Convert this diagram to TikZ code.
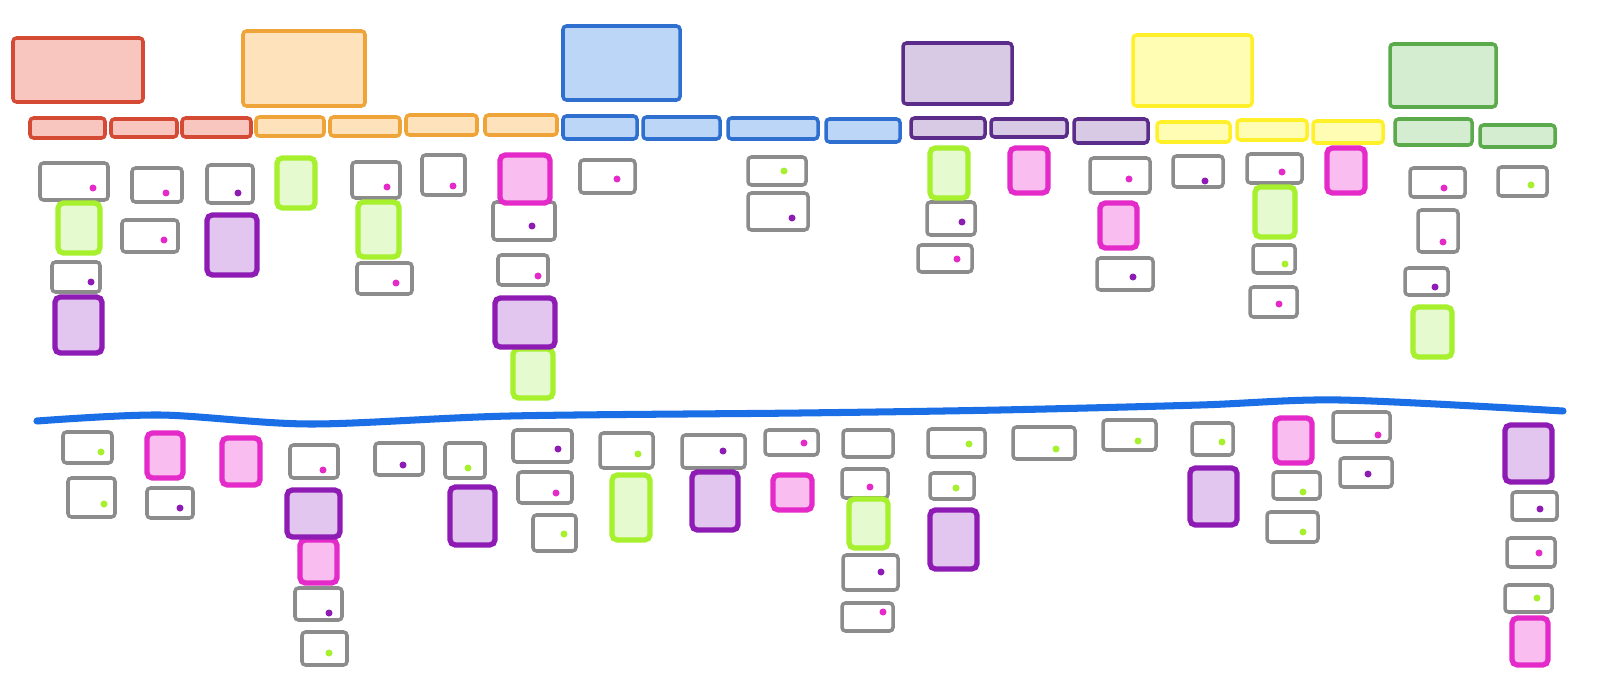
\documentclass[tikz,border=0pt]{standalone}
\usepackage{tikz}

% colours of the map
\definecolor{cardgray}{HTML}{8C8C8C}
\definecolor{lime}{HTML}{A6F02E}
\definecolor{limefill}{HTML}{E6FAD0}
\definecolor{pink}{HTML}{E42AC8}
\definecolor{pinkfill}{HTML}{F9BDEF}
\definecolor{plum}{HTML}{8E1CB4}
\definecolor{plumfill}{HTML}{E2C6F0}
\definecolor{redL}{HTML}{D44A34}
\definecolor{redF}{HTML}{F8C6BE}
\definecolor{orL}{HTML}{EFA43A}
\definecolor{orF}{HTML}{FDE2BC}
\definecolor{blueL}{HTML}{2F6FD0}
\definecolor{blueF}{HTML}{BCD6F8}
\definecolor{vioL}{HTML}{5B2C8A}
\definecolor{vioF}{HTML}{D8CAE4}
\definecolor{yelL}{HTML}{FFF02A}
\definecolor{yelF}{HTML}{FFFDB4}
\definecolor{greL}{HTML}{5BAA4C}
\definecolor{greF}{HTML}{D4ECD0}
\definecolor{releaseblue}{HTML}{1A6EE6}

\tikzset{
  activity/.style={line width=1pt, rounded corners=1pt},
  card/.style={draw=cardgray, line width=1pt, rounded corners=1pt},
  sticky/.style={line width=1.5pt, rounded corners=1.5pt},
  release/.style={draw=releaseblue, line width=2pt, line cap=round}
}

\begin{document}
\begin{tikzpicture}[x=0.01cm, y=-0.01cm]
  \useasboundingbox (0,0) rectangle (1600,691);

  % backbone: activities
  \foreach \a/\b/\c/\d/\s/\f in {13/38/143/102/redL/redF, 243/31/365/106/orL/orF,
      563/26/680/100/blueL/blueF, 903/43/1012/104/vioL/vioF,
      1133/35/1252/106/yelL/yelF, 1390/44/1496/107/greL/greF}
    \draw[activity, draw=\s, fill=\f] (\a,\b) rectangle (\c,\d);

  % backbone: steps
  \foreach \a/\b/\c/\d/\s/\f in {30/118/105/138/redL/redF, 111/119/177/137/redL/redF,
      182/118/251/137/redL/redF,
      256/117/324/136/orL/orF, 330/117/400/136/orL/orF, 406/115/477/135/orL/orF,
      485/115/557/135/orL/orF,
      563/116/637/139/blueL/blueF, 643/117/720/139/blueL/blueF,
      728/118/818/139/blueL/blueF, 826/119/900/142/blueL/blueF,
      911/118/985/138/vioL/vioF, 991/119/1067/137/vioL/vioF, 1074/119/1148/143/vioL/vioF,
      1157/122/1230/142/yelL/yelF, 1237/120/1307/140/yelL/yelF, 1313/121/1383/143/yelL/yelF,
      1395/119/1472/145/greL/greF, 1480/125/1555/147/greL/greF}
    \draw[activity, draw=\s, fill=\f] (\a,\b) rectangle (\c,\d);

  % release line
  \draw[release] plot[smooth] coordinates {(37,421) (160,415) (310,424) (510,416)
      (800,413) (1000,410) (1200,405) (1340,400) (1563,411)};

  % gray cards with a dot
  \foreach \a/\b/\c/\d/\k/\p/\q in {
      40/163/108/200/pink/93/188, 132/168/182/202/pink/166/193,
      122/220/178/252/pink/164/240, 207/165/253/203/plum/238/193,
      52/262/100/292/plum/91/282, 352/162/400/198/pink/387/187,
      357/263/412/294/pink/396/283, 422/155/465/195/pink/453/186,
      493/202/555/240/plum/532/226, 498/255/548/285/pink/538/276,
      580/160/635/193/pink/617/179, 748/157/806/185/lime/784/171,
      748/193/808/230/plum/792/218, 927/202/975/235/plum/962/222,
      918/245/972/272/pink/957/259, 1090/158/1150/193/pink/1129/179,
      1097/258/1153/290/plum/1133/277, 1173/156/1223/187/plum/1205/181,
      1247/154/1302/183/pink/1282/172, 1253/245/1295/273/lime/1285/264,
      1250/287/1297/317/pink/1279/304, 1410/168/1465/197/pink/1444/188,
      1418/210/1458/252/pink/1443/242, 1405/268/1448/295/plum/1435/287,
      1498/167/1547/196/lime/1531/185,
      63/432/112/463/lime/101/452, 68/478/115/517/lime/104/504,
      147/488/193/518/plum/180/508, 290/445/338/478/pink/323/470,
      295/588/342/620/plum/329/613, 302/632/347/665/lime/329/653,
      375/443/423/475/plum/403/465, 445/443/485/478/lime/468/468,
      513/430/572/462/plum/558/449, 518/472/572/503/pink/556/493,
      533/515/576/551/lime/564/534, 600/433/653/468/lime/638/454,
      682/435/745/468/plum/723/451, 765/430/818/455/pink/804/443,
      842/469/888/498/pink/870/487, 843/555/898/590/plum/881/572,
      842/603/893/631/pink/883/612, 928/429/985/457/lime/969/444,
      930/473/974/499/lime/956/488, 1013/427/1075/459/lime/1056/449,
      1103/420/1156/450/lime/1138/441, 1192/423/1233/455/lime/1222/442,
      1273/472/1320/499/lime/1303/492, 1267/512/1318/542/lime/1303/532,
      1333/412/1390/442/pink/1378/435, 1340/458/1392/487/plum/1368/474,
      1512/492/1557/520/plum/1540/509, 1507/538/1555/567/pink/1539/553,
      1505/585/1552/612/lime/1537/598}
  {
    \draw[card] (\a,\b) rectangle (\c,\d);
    \fill[\k] (\p,\q) circle (3.5);
  }
  \draw[card] (843,430) rectangle (893,457);

  % coloured stickies
  \foreach \a/\b/\c/\d in {58/203/100/253, 277/158/315/208, 358/202/399/257,
      513/349/553/398, 930/148/968/198, 1255/187/1295/237, 1413/307/1452/357,
      612/475/650/540, 849/499/888/548}
    \draw[sticky, draw=lime, fill=limefill] (\a,\b) rectangle (\c,\d);
  \foreach \a/\b/\c/\d in {500/155/550/203, 1010/148/1048/193, 1100/203/1137/248,
      1327/148/1365/193, 147/433/183/478, 222/438/260/485, 300/540/337/583,
      773/475/812/510, 1275/418/1312/463, 1512/618/1548/665}
    \draw[sticky, draw=pink, fill=pinkfill] (\a,\b) rectangle (\c,\d);
  \foreach \a/\b/\c/\d in {55/297/102/353, 207/215/257/275, 495/298/555/347,
      287/490/340/537, 450/487/495/545, 692/472/738/530, 930/510/977/569,
      1190/468/1237/525, 1505/425/1552/482}
    \draw[sticky, draw=plum, fill=plumfill] (\a,\b) rectangle (\c,\d);
\end{tikzpicture}
\end{document}
